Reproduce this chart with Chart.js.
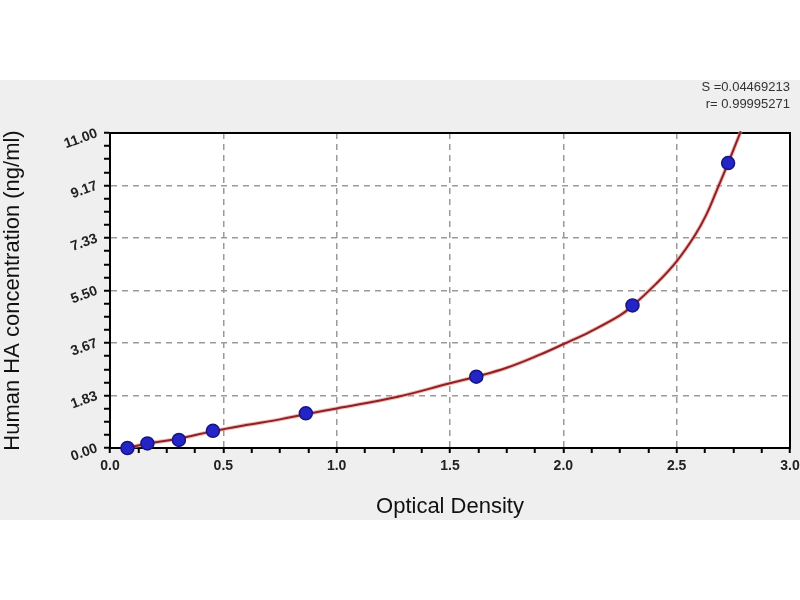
<!DOCTYPE html>
<html>
<head>
<meta charset="utf-8">
<script src="https://cdn.jsdelivr.net/npm/chart.js@4.4.1/dist/chart.umd.min.js"></script>
<style>
  html, body { margin: 0; padding: 0; }
  body {
    width: 800px; height: 600px;
    background: linear-gradient(to bottom, #fff 0, #fff 80px, #efefef 80px, #efefef 520px, #fff 520px);
  }
  canvas { display: block; }
</style>
</head>
<body>
<canvas id="curveChart" width="800" height="600"></canvas>
<script>
// standards (OD vs concentration)
var odValues   = [0.077, 0.165, 0.304, 0.454, 0.864, 1.616, 2.305, 2.727];
var concValues = [0.00, 0.16, 0.28, 0.60, 1.21, 2.49, 4.98, 9.95];

// fitted curve
var curveOd   = [0.077, 0.165, 0.30, 0.45, 0.60, 0.75, 0.864, 1.00, 1.27, 1.50, 1.616, 1.75, 1.894, 2.004, 2.115, 2.248, 2.307, 2.41, 2.50, 2.58, 2.631, 2.676, 2.727, 2.783];
var curveConc = [0.00, 0.16, 0.32, 0.58, 0.80, 1.00, 1.18, 1.38, 1.79, 2.26, 2.49, 2.80, 3.25, 3.64, 4.05, 4.62, 4.98, 5.74, 6.52, 7.42, 8.15, 8.98, 9.95, 11.06];

var xTickLabels = ['0.0', '0.5', '1.0', '1.5', '2.0', '2.5', '3.0'];
var yTickLabels = ['0.00', '1.83', '3.67', '5.50', '7.33', '9.17', '11.00'];
var fitStats = ['S =0.04469213', 'r= 0.99995271'];

var FONT = '"Liberation Sans", Arial, sans-serif';

function toPoints(xs, ys) {
    return xs.map(function (x, i) { return { x: x, y: ys[i] }; });
}

// major ticks from the labels, 4 minor steps in between
function ticksWithMinor(labels, parts) {
    var major = labels.map(Number);
    var out = [];
    for (var i = 0; i < major.length; i++) {
        out.push({ value: major[i], isMajor: true, edge: i === 0 || i === major.length - 1 });
        if (i < major.length - 1) {
            for (var k = 1; k < parts; k++) {
                out.push({ value: major[i] + (major[i + 1] - major[i]) * k / parts, isMajor: false });
            }
        }
    }
    return out;
}

function labelFor(labels) {
    return function (value, index, ticks) {
        return ticks[index].isMajor ? labels[labels.map(Number).indexOf(ticks[index].value)] : '';
    };
}

function gridColor(ctx) {
    var t = ctx.tick;
    if (!t || !t.isMajor || t.edge) return 'rgba(0,0,0,0)';
    return '#9a9a9a';
}

var framePlugin = {
    id: 'frame',
    beforeDraw: function (chart) {
        var a = chart.chartArea, c = chart.ctx;
        c.save();
        c.fillStyle = '#ffffff';
        c.fillRect(a.left, a.top, a.right - a.left, a.bottom - a.top);
        c.restore();
    },
    beforeDatasetsDraw: function (chart) {
        var a = chart.chartArea, c = chart.ctx;
        c.save();
        c.strokeStyle = '#000';
        c.lineWidth = 2;
        c.strokeRect(a.left, a.top, a.right - a.left, a.bottom - a.top);
        c.restore();
    },
    afterDraw: function (chart) {
        var a = chart.chartArea, c = chart.ctx;
        c.save();
        c.font = '13px ' + FONT;
        c.fillStyle = '#333';
        c.textAlign = 'right';
        c.textBaseline = 'middle';
        c.fillText(fitStats[0], a.right, a.top - 46);
        c.fillText(fitStats[1], a.right, a.top - 29);
        c.restore();
    }
};

var ctx = document.getElementById('curveChart').getContext('2d');
var chart = new Chart(ctx, {
    type: 'scatter',
    data: {
        datasets: [
            {
                label: 'Standards',
                data: toPoints(odValues, concValues),
                pointRadius: 6.5,
                pointBackgroundColor: '#2424c8',
                pointBorderColor: '#16167e',
                pointBorderWidth: 1.5,
                clip: false
            },
            {
                label: 'Fit',
                data: toPoints(curveOd, curveConc),
                showLine: true,
                pointRadius: 0,
                borderColor: '#8e2222',
                borderWidth: 2,
                tension: 0.4,
                clip: false
            },
            {
                label: 'Fit halo',
                data: toPoints(curveOd, curveConc),
                showLine: true,
                pointRadius: 0,
                borderColor: 'rgba(235,140,140,0.6)',
                borderWidth: 4,
                tension: 0.4,
                clip: false
            }
        ]
    },
    options: {
        responsive: false,
        animation: false,
        devicePixelRatio: 1,
        layout: { padding: { top: 133, right: 10, bottom: 80, left: 0 } },
        plugins: {
            legend: { display: false },
            tooltip: { enabled: false }
        },
        scales: {
            x: {
                type: 'linear',
                min: 0,
                max: 3,
                afterBuildTicks: function (scale) { scale.ticks = ticksWithMinor(xTickLabels, 4); },
                ticks: {
                    autoSkip: false,
                    maxRotation: 0,
                    padding: 5,
                    color: '#222',
                    font: { family: FONT, size: 14, weight: 'bold' },
                    callback: labelFor(xTickLabels)
                },
                grid: { color: gridColor, lineWidth: 1.5, tickColor: '#000', tickLength: 5, tickWidth: 2 },
                border: { color: '#000', width: 2, dash: [6, 5] },
                title: {
                    display: true,
                    text: 'Optical Density',
                    color: '#111',
                    font: { family: FONT, size: 22 },
                    padding: { top: 0, bottom: 0 }
                },
                afterFit: function (scale) {
                    scale.height = 72;
                    scale.paddingRight = 10;
                }
            },
            y: {
                type: 'linear',
                min: 0,
                max: 11,
                afterBuildTicks: function (scale) { scale.ticks = ticksWithMinor(yTickLabels, 4); },
                ticks: {
                    autoSkip: false,
                    minRotation: 20,
                    maxRotation: 20,
                    padding: 7,
                    color: '#222',
                    font: { family: FONT, size: 14, weight: 'bold' },
                    callback: labelFor(yTickLabels)
                },
                grid: { color: gridColor, lineWidth: 1.5, tickColor: '#000', tickLength: 6, tickWidth: 2 },
                border: { color: '#000', width: 2, dash: [6, 5] },
                title: {
                    display: true,
                    text: 'Human HA concentration (ng/ml)',
                    color: '#111',
                    font: { family: FONT, size: 22 },
                    padding: { top: 0, bottom: 0 }
                },
                afterFit: function (scale) { scale.width = 110; }
            }
        }
    },
    plugins: [framePlugin]
});
</script>
</body>
</html>
